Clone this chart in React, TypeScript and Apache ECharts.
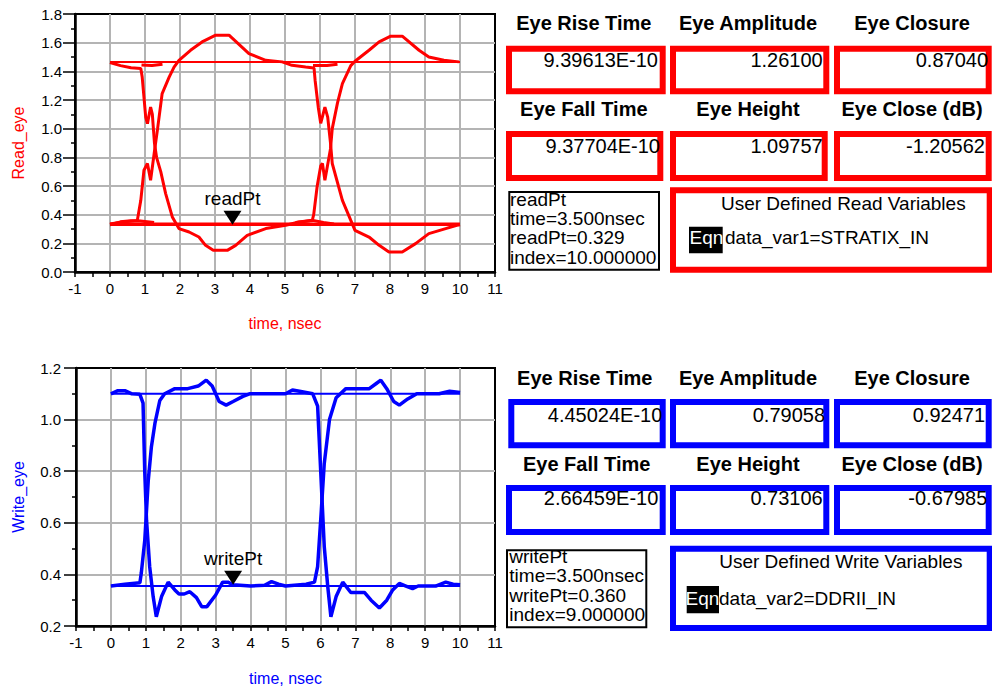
import React, { useEffect, useRef } from "react";
import * as echarts from "echarts";

const FONT = "'Liberation Sans', Arial, sans-serif";
const RED = "#ff0000";
const BLUE = "#0000ff";

// ---------- axes ----------
const timeRange = [-1, 11];
const readYRange = [0, 1.8];
const writeYRange = [0.2, 1.2];
const xAxisName = "time, nsec";
const readYName = "Read_eye";
const writeYName = "Write_eye";

// ---------- read eye traces (time nsec, volts) ----------
const readTraceA: number[][] = [
  [0, 1.462], [0.3, 1.44], [0.6, 1.425], [0.88, 1.419], [0.92, 1.36], [1.02, 1.08], [1.07, 1.035],
  [1.16, 1.151], [1.21, 1.1], [1.27, 0.9], [1.33, 0.8], [1.45, 0.7], [1.59, 0.547], [1.78, 0.384],
  [1.97, 0.303], [2.26, 0.279], [2.54, 0.244], [2.73, 0.186], [2.95, 0.151], [3.35, 0.151],
  [3.59, 0.186], [3.92, 0.256], [4.45, 0.303], [5.02, 0.326], [5.4, 0.349], [5.78, 0.361],
  [5.82, 0.4], [5.92, 0.6], [6.02, 0.74], [6.07, 0.757], [6.14, 0.64], [6.22, 0.75], [6.3, 0.86],
  [6.35, 1.0], [6.5, 1.18], [6.64, 1.315], [6.88, 1.44], [7.0, 1.47], [7.4, 1.547], [7.69, 1.605],
  [8.02, 1.645], [8.35, 1.645], [8.83, 1.547], [9.11, 1.5], [9.54, 1.477], [9.97, 1.466],
];
const readTraceB: number[][] = [
  [0, 0.33], [0.3, 0.35], [0.6, 0.358], [0.78, 0.36], [0.88, 0.5], [0.97, 0.71], [1.07, 0.757],
  [1.16, 0.64], [1.22, 0.75], [1.28, 0.86], [1.36, 1.0], [1.49, 1.245], [1.69, 1.36], [1.83, 1.43],
  [1.97, 1.477], [2.3, 1.547], [2.63, 1.605], [3.02, 1.652], [3.4, 1.652], [3.97, 1.524],
  [4.45, 1.477], [4.92, 1.466], [5.2, 1.442], [5.59, 1.43], [5.83, 1.423], [5.86, 1.338],
  [5.95, 1.15], [6.02, 1.037], [6.14, 1.151], [6.22, 1.08], [6.3, 0.9], [6.35, 0.757], [6.64, 0.5],
  [6.88, 0.36], [7.0, 0.291], [7.4, 0.244], [7.69, 0.186], [7.97, 0.14], [8.35, 0.14],
  [8.73, 0.198], [9.11, 0.268], [9.59, 0.303], [9.91, 0.326], [10, 0.33],
];
const readHighStayA: number[][] = [[0.9, 1.445], [1.2, 1.44], [1.5, 1.45]];
const readHighStayB: number[][] = [[5.8, 1.44], [6.2, 1.44], [6.5, 1.45]];
const readLowStayA: number[][] = [[0, 0.335], [0.4, 0.35], [0.8, 0.358], [1.26, 0.345]];
const readLowStayB: number[][] = [[5.3, 0.345], [5.8, 0.36], [6.1, 0.345], [6.4, 0.335]];
const readLevels = [1.465, 0.333];
const readLevelSpan = [0, 10];
const readMarker = [3.5, 0.329];
const readMarkerName = "readPt";

// ---------- write eye traces ----------
const writeTraceA: number[][] = [
  [0, 1.1], [0.2, 1.112], [0.4, 1.112], [0.6, 1.1], [0.83, 1.098], [0.92, 1.064], [0.97, 0.793],
  [1.02, 0.61], [1.11, 0.43], [1.21, 0.314], [1.3, 0.236], [1.45, 0.314], [1.64, 0.37], [1.83, 0.34],
  [1.95, 0.324], [2.1, 0.324], [2.26, 0.333], [2.45, 0.31], [2.6, 0.275], [2.75, 0.275], [3.0, 0.32],
  [3.2, 0.37], [3.35, 0.37], [3.5, 0.36], [4.0, 0.355], [4.4, 0.358], [4.6, 0.372], [4.8, 0.362],
  [5.0, 0.355], [5.59, 0.362], [5.83, 0.37], [5.92, 0.43], [6.02, 0.636], [6.11, 0.83], [6.26, 1.0],
  [6.45, 1.085], [6.73, 1.12], [7.0, 1.12], [7.4, 1.12], [7.6, 1.14], [7.73, 1.153], [7.9, 1.12],
  [8.1, 1.07], [8.26, 1.056], [8.5, 1.08], [8.76, 1.1], [9.4, 1.1], [9.7, 1.11], [10, 1.105],
];
const writeTraceB: number[][] = [
  [0, 0.355], [0.4, 0.362], [0.83, 0.368], [0.87, 0.405], [0.97, 0.533], [1.07, 0.765], [1.16, 0.895],
  [1.26, 0.985], [1.4, 1.074], [1.54, 1.1], [1.83, 1.12], [2.2, 1.12], [2.5, 1.13], [2.73, 1.153],
  [2.9, 1.13], [3.1, 1.07], [3.3, 1.056], [3.5, 1.07], [3.78, 1.09], [3.97, 1.1], [4.6, 1.1],
  [5.0, 1.1], [5.2, 1.115], [5.4, 1.11], [5.78, 1.1], [5.92, 1.052], [6.02, 0.766], [6.11, 0.508],
  [6.21, 0.353], [6.3, 0.236], [6.45, 0.314], [6.64, 0.37], [6.87, 0.33], [7.26, 0.33], [7.45, 0.3],
  [7.69, 0.27], [7.9, 0.3], [8.07, 0.34], [8.26, 0.365], [8.45, 0.355], [8.64, 0.345], [8.8, 0.355],
  [9.3, 0.355], [9.59, 0.37], [9.8, 0.362], [10, 0.36],
];
const writeLevels = [1.1, 0.355];
const writeLevelSpan = [0, 10];
const writeMarker = [3.5, 0.36];
const writeMarkerName = "writePt";

// ---------- measurement panels ----------
const measureHeaders = ["Eye Rise Time", "Eye Amplitude", "Eye Closure", "Eye Fall Time", "Eye Height", "Eye Close (dB)"];
const readMeasureValues = ["9.39613E-10", "1.26100", "0.87040", "9.37704E-10", "1.09757", "-1.20562"];
const writeMeasureValues = ["4.45024E-10", "0.79058", "0.92471", "2.66459E-10", "0.73106", "-0.67985"];
const readMarkerLines = ["readPt", "time=3.500nsec", "readPt=0.329", "index=10.000000"];
const writeMarkerLines = ["writePt", "time=3.500nsec", "writePt=0.360", "index=9.000000"];
const readVarTitle = "User Defined Read Variables";
const writeVarTitle = "User Defined Write Variables";
const eqnTag = "Eqn";
const readVarEqn = "data_var1=STRATIX_IN";
const writeVarEqn = "data_var2=DDRII_IN";

type Box = { x: number; y: number; w: number; h: number };
type PanelLayout = {
  headerY: number[];
  headerX: number[][];
  boxes: Box[][];
  valueRight: number[][];
  valueY: number[];
  markerBox: Box;
  markerX: number;
  markerY: number[];
  varBox: Box;
  varTitle: number[];
  eqnBox: Box;
  eqnTextX: number;
  eqnY: number;
  varTextX: number;
};

const readLayout: PanelLayout = {
  headerY: [23.3, 109],
  headerX: [[583.8, 748, 912], [583.8, 748, 912]],
  boxes: [
    [{ x: 509, y: 48.7, w: 153.7, h: 42.6 }, { x: 673, y: 48.7, w: 153.3, h: 42.6 }, { x: 837, y: 48.7, w: 151.7, h: 42.6 }],
    [{ x: 509, y: 134, w: 151.3, h: 44 }, { x: 673, y: 134, w: 151.7, h: 44 }, { x: 837, y: 134, w: 151.7, h: 44 }],
  ],
  valueRight: [[658, 822.7, 988], [660, 822.7, 985]],
  valueY: [59.5, 146],
  markerBox: { x: 509.3, y: 192, w: 149.7, h: 77.7 },
  markerX: 510,
  markerY: [199, 218.4, 237.8, 257.2],
  varBox: { x: 673, y: 190.3, w: 316.7, h: 79.4 },
  varTitle: [843.3, 203.3],
  eqnBox: { x: 689, y: 226.7, w: 33.7, h: 26.6 },
  eqnTextX: 689.5,
  eqnY: 237,
  varTextX: 725,
};

const writeLayout: PanelLayout = {
  headerY: [377.5, 463.8],
  headerX: [[584.7, 748, 912], [586.7, 748, 912]],
  boxes: [
    [{ x: 511.3, y: 402, w: 151.4, h: 43.3 }, { x: 673, y: 402, w: 153.3, h: 43.3 }, { x: 837, y: 402, w: 151.7, h: 43.3 }],
    [{ x: 509, y: 488, w: 153.7, h: 44 }, { x: 673, y: 488, w: 153.3, h: 44 }, { x: 837, y: 488, w: 151.7, h: 44 }],
  ],
  valueRight: [[662.3, 825, 985], [658.3, 822.7, 987.3]],
  valueY: [415, 497.5],
  markerBox: { x: 507, y: 550.3, w: 139.3, h: 77 },
  markerX: 509.3,
  markerY: [556.5, 575.8, 595.1, 614.4],
  varBox: { x: 673, y: 548.7, w: 316.7, h: 79.3 },
  varTitle: [840.8, 561.7],
  eqnBox: { x: 686.7, y: 586, w: 32.3, h: 27.3 },
  eqnTextX: 685.5,
  eqnY: 598,
  varTextX: 719,
};

function txt(text: string, x: number, y: number, opts: any = {}) {
  return {
    type: "text",
    x,
    y,
    silent: true,
    z: opts.z || 10,
    style: {
      text,
      fill: opts.fill || "#000",
      fontSize: opts.size || 19,
      fontWeight: opts.weight || "normal",
      fontFamily: FONT,
      lineHeight: opts.lineHeight || undefined,
      align: opts.align || "left",
      verticalAlign: "middle",
    },
  };
}

function rect(b: Box, stroke: string, lw: number, fill = "none") {
  return {
    type: "rect",
    silent: true,
    z: 5,
    shape: { x: b.x, y: b.y, width: b.w, height: b.h },
    style: { fill, stroke, lineWidth: lw },
  };
}

function panel(L: PanelLayout, color: string, values: string[], markerLines: string[], title: string, eqn: string) {
  const els: any[] = [];
  for (let r = 0; r < 2; r++) {
    for (let c = 0; c < 3; c++) {
      els.push(txt(measureHeaders[r * 3 + c], L.headerX[r][c], L.headerY[r], { size: 20, weight: "bold", align: "center" }));
      els.push(rect(L.boxes[r][c], color, 6));
      els.push(txt(values[r * 3 + c], L.valueRight[r][c], L.valueY[r], { size: 20, align: "right" }));
    }
  }
  els.push(rect(L.markerBox, "#000", 2));
  markerLines.forEach((t, i) => els.push(txt(t, L.markerX, L.markerY[i], { size: 19, lineHeight: 17 })));
  els.push(rect(L.varBox, color, 6));
  els.push(txt(title, L.varTitle[0], L.varTitle[1], { size: 19, align: "center" }));
  els.push(rect(L.eqnBox, "none", 0, "#000"));
  els.push(txt(eqnTag, L.eqnTextX, L.eqnY, { size: 19, fill: "#fff", lineHeight: 17 }));
  els.push(txt(eqn, L.varTextX, L.eqnY, { size: 19, lineHeight: 17 }));
  return els;
}

function xAxisCfg(gridIndex: number, color: string, gap: number) {
  return {
    type: "value",
    gridIndex,
    min: timeRange[0],
    max: timeRange[1],
    interval: 1,
    axisLine: { show: true, onZero: false, lineStyle: { color: "#000", width: 2.5 } },
    axisTick: { show: true, length: 5, lineStyle: { color: "#000", width: 1.5 } },
    minorTick: { show: true, splitNumber: 2, length: 5, lineStyle: { color: "#000", width: 1.5 } },
    axisLabel: { color: "#000", fontSize: 15, fontFamily: FONT, margin: 9 },
    splitLine: { show: true, showMinLine: false, showMaxLine: false, lineStyle: { color: "#b4b4b4", width: 2 } },
    name: xAxisName,
    nameLocation: "middle",
    nameGap: gap,
    nameTextStyle: { color, fontSize: 16, fontFamily: FONT },
  };
}

function yAxisCfg(gridIndex: number, range: number[], color: string, name: string, gap: number, margin: number) {
  return {
    type: "value",
    gridIndex,
    min: range[0],
    max: range[1],
    interval: 0.2,
    axisLine: { show: true, onZero: false, lineStyle: { color: "#000", width: 2.5 } },
    axisTick: { show: true, length: 12, lineStyle: { color: "#000", width: 1.5 } },
    minorTick: { show: true, splitNumber: 2, length: 4, lineStyle: { color: "#000", width: 1.5 } },
    axisLabel: { color: "#000", fontSize: 15, fontFamily: FONT, margin, formatter: (v: number) => v.toFixed(1) },
    splitLine: { show: true, showMinLine: false, showMaxLine: false, lineStyle: { color: "#b4b4b4", width: 2 } },
    name,
    nameLocation: "middle",
    nameGap: gap,
    nameTextStyle: { color, fontSize: 16, fontFamily: FONT },
  };
}

function lineSeries(idx: number, data: number[][], color: string, width: number) {
  return {
    type: "line",
    xAxisIndex: idx,
    yAxisIndex: idx,
    data,
    symbol: "none",
    showSymbol: false,
    silent: true,
    lineStyle: { color, width, opacity: 1 },
    z: 3,
  };
}

function levelSeries(idx: number, level: number, span: number[], color: string, width: number) {
  return lineSeries(idx, [[span[0], level], [span[1], level]], color, width);
}

function markerSeries(idx: number, pt: number[], name: string) {
  return {
    type: "scatter",
    xAxisIndex: idx,
    yAxisIndex: idx,
    data: [pt],
    symbol: "path://M0,0L18,0L9,14Z",
    symbolSize: [18, 14],
    symbolOffset: [0, -7],
    silent: true,
    itemStyle: { color: "#000", opacity: 1 },
    label: { show: true, position: "top", distance: 3, formatter: name, color: "#000", opacity: 1, fontSize: 19, fontFamily: FONT },
    z: 5,
  };
}

export default function App() {
  const ref = useRef<HTMLDivElement>(null);
  useEffect(() => {
    if (!ref.current) return;
    const chart = echarts.init(ref.current, undefined, { renderer: "svg" });
    const option: any = {
      animation: false,
      backgroundColor: "#fff",
      grid: [
        { left: 75, top: 14, width: 420, height: 258, show: true, borderColor: "#000", borderWidth: 2, backgroundColor: "transparent" },
        { left: 76, top: 368, width: 419, height: 258, show: true, borderColor: "#000", borderWidth: 2, backgroundColor: "transparent" },
      ],
      xAxis: [xAxisCfg(0, RED, 43), xAxisCfg(1, BLUE, 44)],
      yAxis: [
        yAxisCfg(0, readYRange, RED, readYName, 49, 13),
        yAxisCfg(1, writeYRange, BLUE, writeYName, 50, 15),
      ],
      series: [
        lineSeries(0, readTraceA, RED, 3),
        lineSeries(0, readTraceB, RED, 3),
        lineSeries(0, readHighStayA, RED, 3),
        lineSeries(0, readHighStayB, RED, 3),
        lineSeries(0, readLowStayA, RED, 3),
        lineSeries(0, readLowStayB, RED, 3),
        levelSeries(0, readLevels[0], readLevelSpan, RED, 2),
        levelSeries(0, readLevels[1], readLevelSpan, RED, 3.5),
        markerSeries(0, readMarker, readMarkerName),
        lineSeries(1, writeTraceA, BLUE, 3.5),
        lineSeries(1, writeTraceB, BLUE, 3.5),
        levelSeries(1, writeLevels[0], writeLevelSpan, BLUE, 2),
        levelSeries(1, writeLevels[1], writeLevelSpan, BLUE, 2),
        markerSeries(1, writeMarker, writeMarkerName),
      ],
      graphic: {
        elements: [
          ...panel(readLayout, RED, readMeasureValues, readMarkerLines, readVarTitle, readVarEqn),
          ...panel(writeLayout, BLUE, writeMeasureValues, writeMarkerLines, writeVarTitle, writeVarEqn),
        ],
      },
    };
    chart.setOption(option);
    return () => chart.dispose();
  }, []);
  return <div ref={ref} style={{ position: "absolute", left: 0, top: 0, width: 992, height: 690 }} />;
}
